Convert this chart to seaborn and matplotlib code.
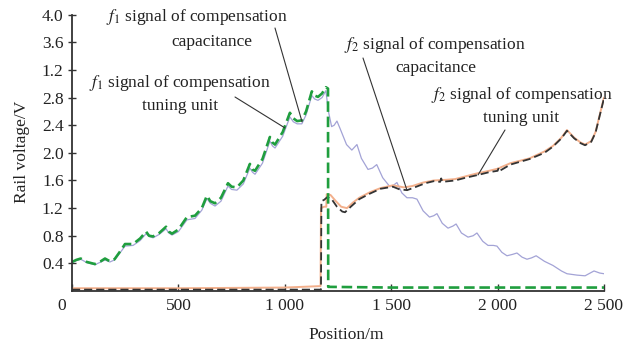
import matplotlib
matplotlib.use("Agg")
import matplotlib.pyplot as plt
import matplotlib.transforms as mtransforms
import seaborn as sns
import pandas as pd

# ---------------- data ----------------
f1_cap_pos = [0, 20, 41, 70, 108, 135, 155, 178, 200, 230, 249, 287, 320, 348, 362, 381, 410, 442,
              455, 470, 500, 540, 578, 610, 634, 650, 672, 700, 733, 750, 775, 805, 836, 848, 860,
              895, 930, 942, 954, 990, 1024, 1040, 1058, 1080, 1100, 1127, 1140, 1156, 1175, 1193,
              1205, 1220, 1232, 1245, 1260, 1290, 1315, 1339, 1360, 1391, 1412, 1432, 1460, 1494,
              1510, 1527, 1550, 1574, 1600, 1621, 1650, 1680, 1700, 1715, 1740, 1767, 1790, 1805,
              1830, 1861, 1885, 1903, 1930, 1955, 1980, 1997, 2020, 2044, 2070, 2091, 2115, 2138,
              2160, 2181, 2220, 2260, 2300, 2326, 2373, 2411, 2435, 2453, 2480, 2500]
f1_cap_val = [0.41, 0.44, 0.46, 0.41, 0.38, 0.42, 0.45, 0.42, 0.45, 0.57, 0.65, 0.66, 0.73, 0.83, 0.79,
              0.77, 0.82, 0.90, 0.84, 0.81, 0.86, 1.03, 1.05, 1.17, 1.34, 1.27, 1.23, 1.30, 1.52, 1.47,
              1.46, 1.55, 1.78, 1.72, 1.69, 1.85, 2.17, 2.10, 2.07, 2.24, 2.52, 2.45, 2.42, 2.42, 2.55,
              2.83, 2.78, 2.76, 2.80, 2.90, 2.60, 2.38, 2.40, 2.46, 2.35, 2.12, 2.04, 2.12, 1.92, 1.76,
              1.78, 1.83, 1.64, 1.51, 1.53, 1.57, 1.42, 1.35, 1.35, 1.33, 1.16, 1.07, 1.09, 1.12, 0.98,
              0.91, 0.94, 0.97, 0.84, 0.78, 0.80, 0.84, 0.72, 0.66, 0.66, 0.65, 0.56, 0.51, 0.53, 0.55,
              0.49, 0.46, 0.48, 0.51, 0.43, 0.37, 0.29, 0.25, 0.23, 0.22, 0.26, 0.29, 0.26, 0.25]

f1_tun_pos = [0, 20, 41, 70, 108, 135, 155, 178, 200, 230, 249, 287, 320, 348, 362, 381, 410, 442,
              455, 470, 500, 540, 578, 610, 634, 650, 672, 700, 733, 750, 775, 805, 836, 848, 860,
              895, 930, 942, 954, 990, 1024, 1040, 1058, 1080, 1100, 1127, 1140, 1156, 1175, 1193,
              1203, 1204, 1500, 2000, 2500]
f1_tun_val = [0.42, 0.45, 0.47, 0.42, 0.39, 0.43, 0.47, 0.43, 0.46, 0.59, 0.68, 0.68, 0.76, 0.86, 0.80,
              0.79, 0.84, 0.93, 0.86, 0.83, 0.89, 1.07, 1.09, 1.20, 1.38, 1.30, 1.27, 1.35, 1.56, 1.51,
              1.50, 1.60, 1.84, 1.76, 1.74, 1.91, 2.23, 2.15, 2.12, 2.30, 2.58, 2.50, 2.46, 2.47, 2.60,
              2.89, 2.83, 2.81, 2.86, 2.95, 2.93, 0.06, 0.05, 0.05, 0.05]

f2_cap_pos = [0, 500, 1000, 1160, 1168, 1170, 1185, 1195, 1197, 1215, 1240, 1265, 1292, 1320, 1350,
              1400, 1450, 1508, 1560, 1600, 1650, 1700, 1760, 1800, 1850, 1900, 1960, 2000, 2060,
              2150, 2220, 2260, 2300, 2326, 2360, 2390, 2411, 2440, 2460, 2480, 2500]
f2_cap_val = [0.04, 0.04, 0.05, 0.07, 0.07, 1.20, 1.22, 1.22, 1.40, 1.39, 1.30, 1.22, 1.20, 1.28, 1.35,
              1.43, 1.49, 1.53, 1.50, 1.52, 1.57, 1.60, 1.61, 1.62, 1.66, 1.70, 1.74, 1.77, 1.85,
              1.92, 2.02, 2.10, 2.22, 2.33, 2.22, 2.15, 2.12, 2.17, 2.30, 2.55, 2.80]

f2_tun_pos = [0, 500, 1000, 1170, 1172, 1185, 1200, 1220, 1245, 1270, 1283, 1310, 1350, 1400, 1450,
              1508, 1540, 1575, 1610, 1660, 1700, 1730, 1735, 1740, 1800, 1850, 1908, 1960, 2000,
              2005, 2010, 2060, 2150, 2220, 2260, 2300, 2326, 2360, 2390, 2411, 2440, 2460, 2480, 2500]
f2_tun_val = [0.02, 0.02, 0.02, 0.02, 1.30, 1.32, 1.36, 1.33, 1.22, 1.15, 1.14, 1.22, 1.33, 1.41, 1.48,
              1.51, 1.47, 1.46, 1.50, 1.56, 1.59, 1.58, 1.63, 1.58, 1.60, 1.64, 1.68, 1.72, 1.74,
              1.78, 1.74, 1.83, 1.91, 2.00, 2.09, 2.21, 2.32, 2.21, 2.14, 2.11, 2.16, 2.29, 2.54, 2.79]

x_ticks = [0, 500, 1000, 1500, 2000, 2500]
x_tick_labels = ["0", "500", "1 000", "1 500", "2 000", "2 500"]
y_ticks = [0.4, 0.8, 1.2, 1.6, 2.0, 2.4, 2.8, 3.2, 3.6, 4.0]
y_tick_labels = ["0.4", "0.8", "1.2", "1.6", "2.0", "2.4", "2.8", "1.2", "3.6", "4.0"]

# ---------------- style ----------------
sns.set_style("ticks")
plt.rcParams["font.family"] = ["Liberation Serif", "DejaVu Serif"]
plt.rcParams["mathtext.fontset"] = "stix"
FS = 12.5
TXT = "#222222"

W, H = 641, 349
fig = plt.figure(figsize=(W / 100, H / 100), dpi=100)
x0, x1 = 72, 604
ytop, ybot = 14.7, 291
ax = fig.add_axes([x0 / W, 1 - ybot / H, (x1 - x0) / W, (ybot - ytop) / H])

df_f1c = pd.DataFrame({"pos": f1_cap_pos, "v": f1_cap_val})
df_f1t = pd.DataFrame({"pos": f1_tun_pos, "v": f1_tun_val})
df_f2c = pd.DataFrame({"pos": f2_cap_pos, "v": f2_cap_val})
df_f2t = pd.DataFrame({"pos": f2_tun_pos, "v": f2_tun_val})

sns.lineplot(data=df_f1c, x="pos", y="v", ax=ax, estimator=None, sort=False,
             color="#a3a3d6", lw=0.9)
sns.lineplot(data=df_f2c, x="pos", y="v", ax=ax, estimator=None, sort=False,
             color="#f3b08c", lw=1.4)
sns.lineplot(data=df_f2t, x="pos", y="v", ax=ax, estimator=None, sort=False,
             color="#333333", lw=1.3, linestyle=(0, (4.5, 2.2)))
sns.lineplot(data=df_f1t, x="pos", y="v", ax=ax, estimator=None, sort=False,
             color="#1f9e3e", lw=1.9, linestyle=(0, (4, 1.8)))

ax.set_xlim(0, 2500)
ax.set_ylim(0, 4.0)
ax.set_xticks(x_ticks)
ax.set_xticklabels(x_tick_labels, fontsize=FS, color=TXT)
ax.set_yticks(y_ticks)
ax.set_yticklabels(y_tick_labels, fontsize=FS, color=TXT)
ax.tick_params(axis="x", direction="in", length=5, width=1.0, pad=5, colors="#333333",
               labelcolor=TXT)
ax.tick_params(axis="y", direction="inout", length=6, width=1.0, pad=3, colors="#333333",
               labelcolor=TXT)
# shift the "0" origin label slightly left
lbl0 = ax.get_xticklabels()[0]
lbl0.set_transform(lbl0.get_transform() + mtransforms.ScaledTranslation(-10 / 100, 0, fig.dpi_scale_trans))

for s in ["top", "right"]:
    ax.spines[s].set_visible(False)
for s in ["left", "bottom"]:
    ax.spines[s].set_color("#333333")
    ax.spines[s].set_linewidth(1.3)

ax.set_xlabel("")
ax.set_ylabel("")
fig.text(346 / W, 1 - 335 / H, "Position/m", ha="center", va="center", fontsize=FS, color=TXT)
fig.text(22 / W, 1 - 152 / H, "Rail voltage/V", ha="center", va="center", rotation=90,
         fontsize=FS, color=TXT)

# ---------------- annotations ----------------
def label(cx, cy, s):
    fig.text(cx / W, 1 - cy / H, s, ha="center", va="center", fontsize=FS, color=TXT)

label(197, 17, r"$f_1$ signal of compensation")
label(212, 42, "capacitance")
label(180, 83, r"$f_1$ signal of compensation")
label(180, 106, "tuning unit")
label(435, 45, r"$f_2$ signal of compensation")
label(436, 68, "capacitance")
label(522, 95, r"$f_2$ signal of compensation")
label(521, 118, "tuning unit")

leaders = [((275, 28), (1081, 2.45)),
           ((235, 97), (1001, 2.36)),
           ((363, 58), (1574, 1.46)),
           ((505, 130), (1908, 1.68))]
for (px, py), (dx, dy) in leaders:
    ax.annotate("", xy=(dx, dy), xycoords="data", xytext=(px, H - py),
                textcoords="figure pixels",
                arrowprops=dict(arrowstyle="-", lw=0.8, color="#333333",
                                shrinkA=0, shrinkB=0))

fig.savefig("out.png", dpi=100)
